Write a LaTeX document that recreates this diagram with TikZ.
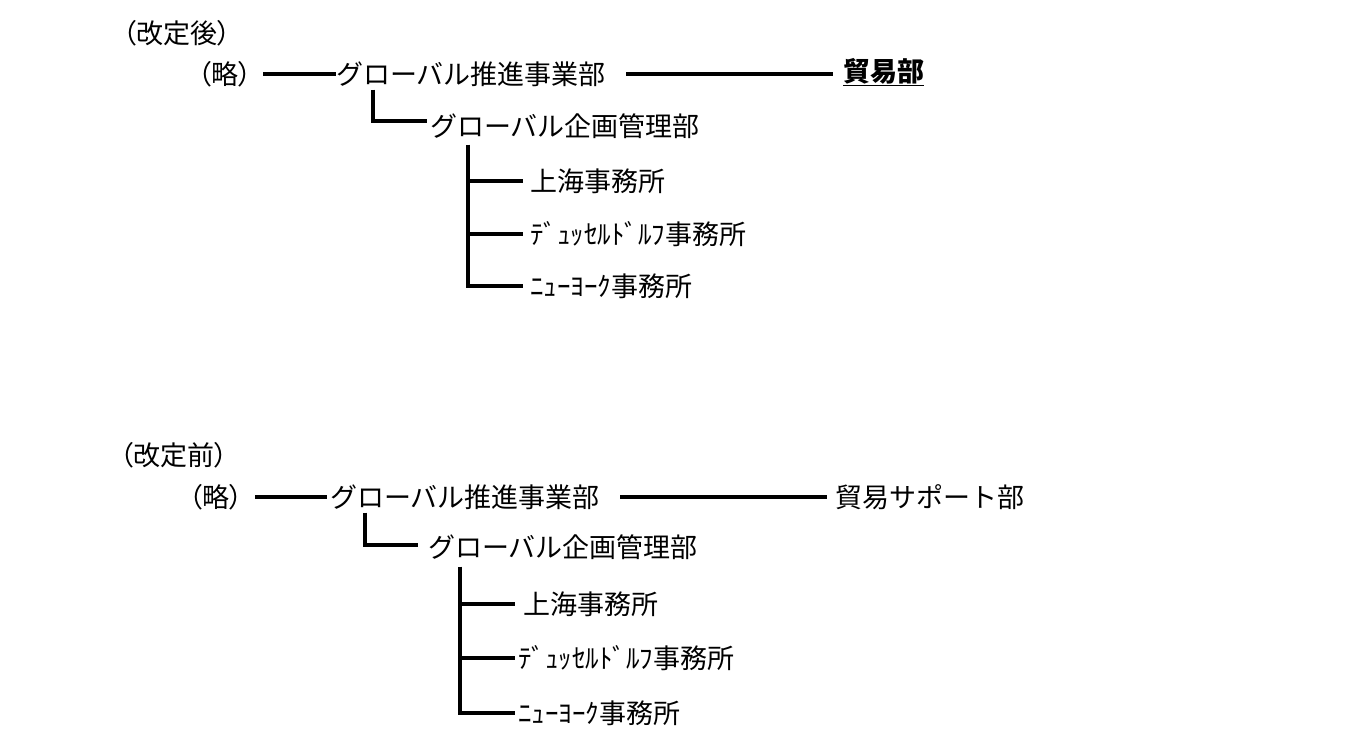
\documentclass[tikz,border=0pt]{standalone}
\usepackage{fontspec}
\newfontfamily\jpfont{Noto Sans CJK JP}
\newfontfamily\jppfont{Noto Sans CJK JP}[RawFeature=+palt]
\tikzset{
  lbl/.style={anchor=west, inner sep=0pt, font=\jpfont\fontsize{27pt}{30pt}\selectfont},
  plbl/.style={lbl, font=\jppfont\fontsize{27pt}{30pt}\selectfont},
  boldlbl/.style={lbl, font=\jpfont\bfseries\fontsize{27pt}{30pt}\selectfont},
  conn/.style={line width=3.6pt, black},
}
\begin{document}
\begin{tikzpicture}[x=1pt,y=-1pt]
\useasboundingbox (0,0) rectangle (1355,753);
% ---------- upper (after revision)
\node[plbl] (hA) at (123,33) {（改定後）};
\node[plbl,anchor=east] (rA) at (252,74) {（略）};
\node[lbl] (gA) at (336,74) {グローバル推進事業部};
\node[boldlbl] (tA) at (843,72) {\underline{貿易部}};
\node[lbl] (kA) at (430,126) {グローバル企画管理部};
\node[lbl] (s1A) at (530,181) {上海事務所};
\node[lbl] (s2A) at (530,234) {ﾃﾞｭｯｾﾙﾄﾞﾙﾌ事務所};
\node[lbl] (s3A) at (530,286) {ﾆｭｰﾖｰｸ事務所};
\draw[conn,shorten <=11pt] (rA.east) -- (gA.west);
\draw[conn,shorten <=20pt,shorten >=10pt] (gA.east) -- (gA.east -| tA.west);
\draw[conn] ([xshift=37pt,yshift=-3pt]gA.south west) |- ([xshift=-3pt,yshift=5pt]kA.west);
\coordinate (jA) at ([xshift=38pt,yshift=-6pt]kA.south west);
\draw[conn] (jA) |- ([xshift=-7pt]s3A.west);
\draw[conn] (jA |- s1A.west) -- ([xshift=-7pt]s1A.west);
\draw[conn] (jA |- s2A.west) -- ([xshift=-7pt]s2A.west);
% ---------- lower (before revision)
\node[plbl] (hB) at (120,455) {（改定前）};
\node[plbl,anchor=east] (rB) at (243,497) {（略）};
\node[lbl] (gB) at (330,497) {グローバル推進事業部};
\node[lbl] (tB) at (835,497) {貿易サポート部};
\node[lbl] (kB) at (428,547) {グローバル企画管理部};
\node[lbl] (s1B) at (523,604) {上海事務所};
\node[lbl] (s2B) at (518,658) {ﾃﾞｭｯｾﾙﾄﾞﾙﾌ事務所};
\node[lbl] (s3B) at (518,713) {ﾆｭｰﾖｰｸ事務所};
\draw[conn,shorten <=12pt,shorten >=3pt] (rB.east) -- (gB.west);
\draw[conn,shorten <=20pt,shorten >=8pt] (gB.east) -- (tB.west);
\draw[conn] ([xshift=35pt,yshift=-3pt]gB.south west) |- ([xshift=-10pt,yshift=2pt]kB.west);
\coordinate (jB) at ([xshift=32pt,yshift=-7pt]kB.south west);
\draw[conn] (jB) |- ([xshift=-3pt]s3B.west);
\draw[conn] (jB |- s1B.west) -- ([xshift=-8pt]s1B.west);
\draw[conn] (jB |- s2B.west) -- ([xshift=-3pt]s2B.west);
\end{tikzpicture}
\end{document}
